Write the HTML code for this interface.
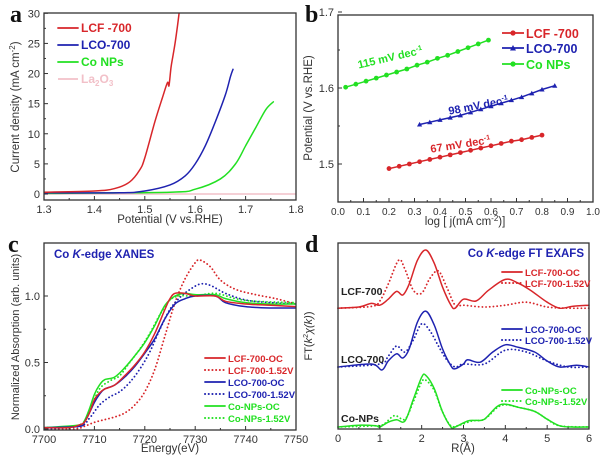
<!DOCTYPE html>
<html><head><meta charset="utf-8"><style>
body{margin:0;background:#fff;}
svg{display:block;font-family:"Liberation Sans",Arial,sans-serif;}
</style></head><body>
<svg id="fig" width="600" height="465" viewBox="0 0 600 465"></svg>
<script>
// ---------- Panel a data ----------
const aLCFx=[1.30,1.40,1.44,1.47,1.49,1.50,1.52,1.535,1.545,1.548,1.552,1.556,1.56,1.565,1.568];
const aLCFy=[0.3,0.5,0.9,2,4,6,12,16,18.5,18,21,23,25,28,30];
const aLCOx=[1.30,1.45,1.50,1.55,1.58,1.60,1.62,1.64,1.66,1.67,1.675];
const aLCOy=[0.2,0.2,0.5,1.5,3,5,8,12,16.5,19.5,20.7];
const aCox=[1.30,1.55,1.60,1.65,1.68,1.70,1.72,1.74,1.755];
const aCoy=[0.1,0.3,0.8,2.5,5,8,11,14,15.3];
const aLax=[1.30,1.80];
const aLay=[0,0];
const aXTicks=[1.3,1.4,1.5,1.6,1.7,1.8];
const aYTicks=[0,5,10,15,20,25,30];
// ---------- Panel b data ----------
const bLCFx=[0.20,0.24,0.28,0.32,0.36,0.40,0.44,0.48,0.52,0.56,0.60,0.64,0.68,0.72,0.76,0.80];
const bLCFy=[1.494,1.497,1.500,1.503,1.506,1.509,1.512,1.515,1.518,1.521,1.524,1.527,1.530,1.532,1.535,1.538];
const bLCOx=[0.32,0.36,0.40,0.44,0.48,0.52,0.56,0.60,0.64,0.68,0.72,0.76,0.80,0.85];
const bLCOy=[1.552,1.555,1.558,1.561,1.564,1.568,1.572,1.576,1.580,1.584,1.588,1.593,1.598,1.603];
const bCox=[0.03,0.07,0.11,0.15,0.19,0.23,0.27,0.31,0.35,0.39,0.43,0.47,0.51,0.55,0.59];
const bCoy=[1.601,1.605,1.609,1.613,1.617,1.621,1.625,1.630,1.634,1.639,1.643,1.648,1.653,1.658,1.663];
const bXTicks=[0.0,0.1,0.2,0.3,0.4,0.5,0.6,0.7,0.8,0.9,1.0];
const bYTicks=[1.5,1.6,1.7];
// ---------- Panel c data ----------
const cLCFOCx=[7700,7705,7707,7708,7709,7710,7711,7712,7714,7716,7718,7720,7722,7724,7725,7726,7728,7730,7734,7736,7740,7745,7750];
const cLCFOCy=[0.01,0.01,0.03,0.05,0.12,0.22,0.27,0.30,0.33,0.40,0.48,0.58,0.72,0.90,0.98,1.02,1.02,1.00,1.00,0.96,0.94,0.93,0.92];
const cLCF152x=[7700,7706,7708,7710,7712,7714,7716,7718,7720,7722,7724,7726,7728,7730,7731,7733,7735,7738,7742,7746,7750];
const cLCF152y=[0,0,0.02,0.05,0.07,0.09,0.12,0.18,0.28,0.45,0.70,0.95,1.13,1.25,1.27,1.22,1.12,1.05,1.01,0.98,0.94];
const cLCOOCx=[7700,7707,7708,7709,7710,7711,7712,7714,7716,7718,7720,7722,7724,7726,7728,7730,7734,7736,7740,7745,7750];
const cLCOOCy=[0.01,0.02,0.05,0.12,0.20,0.26,0.30,0.33,0.39,0.47,0.57,0.68,0.83,0.94,0.98,1.0,1.0,0.95,0.92,0.91,0.91];
const cLCO152x=[7700,7707,7709,7711,7713,7715,7717,7719,7721,7723,7725,7727,7729,7731,7733,7736,7740,7745,7750];
const cLCO152y=[0,0.02,0.08,0.18,0.24,0.28,0.35,0.45,0.58,0.75,0.90,0.99,1.05,1.09,1.08,1.02,0.97,0.95,0.94];
const cCoOCx=[7700,7707,7708,7709,7710,7711,7712,7714,7716,7718,7720,7722,7724,7726,7728,7730,7734,7736,7740,7745,7750];
const cCoOCy=[0.01,0.03,0.06,0.15,0.26,0.33,0.37,0.39,0.46,0.55,0.65,0.78,0.93,1.0,1.02,1.01,1.01,0.98,0.95,0.94,0.94];
const cCo152x=[7700,7707,7709,7711,7713,7715,7717,7719,7721,7723,7725,7727,7730,7734,7738,7742,7750];
const cCo152y=[0.01,0.03,0.14,0.30,0.36,0.40,0.50,0.60,0.72,0.86,0.97,1.0,1.0,1.02,0.98,0.96,0.95];
const cXTicks=[7700,7710,7720,7730,7740,7750];
const cYTicks=[0.0,0.5,1.0];
// ---------- Panel d data (relative to each sample baseline) ----------
const dLCFOCx=[0,0.5,0.8,1.0,1.2,1.4,1.55,1.7,1.9,2.1,2.3,2.5,2.7,2.8,3.0,3.3,3.6,4.0,4.3,4.6,5.0,5.3,5.6,6.0];
const dLCFOCy=[0,0.02,0.08,0.05,0.15,0.28,0.22,0.4,0.8,0.97,0.75,0.35,0.05,0.0,0.15,0.12,0.3,0.48,0.42,0.3,0.1,0.0,0.03,0.05];
const dLCF152x=[0,0.8,1.0,1.2,1.45,1.6,1.8,2.0,2.2,2.4,2.6,2.8,3.0,3.5,4.0,4.5,5.0,5.5,6.0];
const dLCF152y=[0,0.03,0.12,0.4,0.8,0.65,0.3,0.25,0.5,0.62,0.35,0.05,0.05,0.02,0.05,0.1,0.02,0.0,0.0];
const dLCOOCx=[0,0.8,1.05,1.2,1.4,1.55,1.7,1.9,2.1,2.3,2.5,2.7,2.8,3.0,3.1,3.4,3.7,4.0,4.3,4.7,5.0,5.3,5.7,6.0];
const dLCOOCy=[0,0.05,-0.05,0.1,0.22,0.15,0.3,0.75,0.93,0.7,0.3,0.02,-0.03,0.05,0.12,0.08,0.25,0.37,0.33,0.25,0.1,0.0,0.03,0.0];
const dLCO152x=[0,1.0,1.2,1.4,1.6,1.8,2.0,2.2,2.4,2.6,2.8,3.0,3.5,4.0,4.5,5.0,5.5,6.0];
const dLCO152y=[0,0.05,0.18,0.35,0.25,0.45,0.72,0.6,0.35,0.12,0.0,0.05,0.05,0.28,0.25,0.1,0.0,0.0];
const dCoOCx=[0,0.5,0.9,1.0,1.2,1.4,1.6,1.8,2.0,2.1,2.3,2.5,2.7,2.8,3.1,3.3,3.5,3.8,4.0,4.3,4.7,5.0,5.3,5.6,6.0];
const dCoOCy=[0,0.03,0.02,0.0,0.08,0.12,0.1,0.46,0.83,0.86,0.64,0.25,0.0,0.0,0.1,0.11,0.13,0.34,0.38,0.33,0.26,0.13,0.02,0.0,0.0];
const dCo152x=[0,0.9,1.1,1.35,1.6,1.8,2.0,2.1,2.3,2.5,2.7,2.9,3.2,3.5,3.8,4.0,4.3,4.7,5.0,5.3,6.0];
const dCo152y=[0,0.02,0.05,0.19,0.13,0.42,0.75,0.78,0.61,0.25,0.02,0.03,0.1,0.13,0.32,0.37,0.33,0.26,0.13,0.02,0.0];
const dOffsets=[1.98,1.0,0.0];
const dXTicks=[0,1,2,3,4,5,6];

const NS="http://www.w3.org/2000/svg";
const svg=document.getElementById('fig');
const RED="#d8262a",BLUE="#1e22b0",GREEN="#22e022",PINK="#f2c0c8";
const DOT='0.1,3.6';
function el(tag,attrs,parent,text){const e=document.createElementNS(NS,tag);for(const k in attrs)e.setAttribute(k,attrs[k]);if(text!==undefined)e.textContent=text;(parent||svg).appendChild(e);return e;}
function lin(d0,d1,r0,r1){return v=>r0+(v-d0)*(r1-r0)/(d1-d0);}
function smoothPath(xs,ys,sx,sy){
  const p=xs.map((x,i)=>[sx(x),sy(ys[i])]);
  let d="M"+p[0][0].toFixed(2)+","+p[0][1].toFixed(2);
  for(let i=0;i<p.length-1;i++){
    const p0=p[i-1]||p[i],p1=p[i],p2=p[i+1],p3=p[i+2]||p2;
    const c1=[p1[0]+(p2[0]-p0[0])/6,p1[1]+(p2[1]-p0[1])/6];
    const c2=[p2[0]-(p3[0]-p1[0])/6,p2[1]-(p3[1]-p1[1])/6];
    d+="C"+c1[0].toFixed(2)+","+c1[1].toFixed(2)+" "+c2[0].toFixed(2)+","+c2[1].toFixed(2)+" "+p2[0].toFixed(2)+","+p2[1].toFixed(2);
  }
  return d;
}
function frame(g,x0,y0,x1,y1){el('rect',{x:x0,y:y0,width:x1-x0,height:y1-y0,fill:'none',stroke:'#333','stroke-width':1.3},g);}
function xTicks(g,ticks,sx,yb,fmt,minor,fs){
  ticks.forEach((t,i)=>{const x=sx(t);el('line',{x1:x,y1:yb,x2:x,y2:yb-4,stroke:'#333'},g);
    const lab=el('text',{x:x,y:yb+13,'text-anchor':'middle','font-size':fs||11,fill:'#333'},g,fmt(t));
    
    if(minor&&i<ticks.length-1){const xm=(x+sx(ticks[i+1]))/2;el('line',{x1:xm,y1:yb,x2:xm,y2:yb-2,stroke:'#333'},g);}
  });
}
function yTicks(g,ticks,sy,xl,fmt,minor){
  ticks.forEach((t,i)=>{const y=sy(t);el('line',{x1:xl,y1:y,x2:xl+4,y2:y,stroke:'#333'},g);
    const lab=el('text',{x:xl-4,y:y+4,'text-anchor':'end','font-size':11,fill:'#333'},g,fmt(t));
    
    if(minor&&i<ticks.length-1){const ym=(y+sy(ticks[i+1]))/2;el('line',{x1:xl,y1:ym,x2:xl+2,y2:ym,stroke:'#333'},g);}
  });
}
function panelLetter(x,y,t){el('text',{x:x,y:y,'font-family':'"Liberation Serif",serif','font-size':24,'font-weight':'bold',fill:'#111',},svg,t);}
function series(g,xs,ys,sx,sy,color,dashed,name,w){
  const p=el('path',{d:smoothPath(xs,ys,sx,sy),fill:'none',stroke:color,'stroke-width':dashed?1.8:(w||1.5),'stroke-dasharray':dashed?DOT:'none','stroke-linecap':'round'},g);
  
}
function legend(g,x,y,color,dashed,label,fs){
  el('line',{x1:x,y1:y,x2:x+20,y2:y,stroke:color,'stroke-width':dashed?2:1.8,'stroke-dasharray':dashed?DOT:'none','stroke-linecap':'round'},g);
  const t=el('text',{x:x+23,y:y+4,'font-size':fs||11,'font-weight':'bold',fill:color},g,label);
  
}

// ===== Panel a =====
{
const g=el('g',{});
const sx=lin(1.3,1.8,44,296), sy=lin(0,30,194,13.3);
el('clipPath',{id:'ca'},g).appendChild(el('rect',{x:44,y:13,width:252,height:187},svg));
const cg=el('g',{'clip-path':'url(#ca)'},g);
series(cg,aLax,aLay,sx,sy,PINK,false,'la2o3-curve');
series(cg,aCox,aCoy,sx,sy,GREEN,false,'co-nps-curve');
series(cg,aLCOx,aLCOy,sx,sy,BLUE,false,'lco-700-curve');
series(cg,aLCFx,aLCFy,sx,sy,RED,false,'lcf-700-curve');
frame(g,44,13,296,200);
xTicks(g,aXTicks,sx,200,t=>t.toFixed(1),true);
yTicks(g,aYTicks,sy,44,t=>String(t),true);
el('text',{x:170,y:223,'text-anchor':'middle','font-size':11.5,fill:'#333',},g,'Potential (V vs.RHE)');
const yt=el('text',{transform:'translate(19,107) rotate(-90)','text-anchor':'middle','font-size':11.5,fill:'#333',},g);
yt.innerHTML='Current density (mA cm<tspan dy="-4" font-size="8">-2</tspan><tspan dy="4">)</tspan>';
legend(g,58,28,RED,false,'LCF -700',12);
legend(g,58,45,BLUE,false,'LCO-700',12);
legend(g,58,62,GREEN,false,'Co NPs',12);
el('line',{x1:58,y1:79,x2:78,y2:79,stroke:PINK,'stroke-width':1.8},g);
const lt=el('text',{x:81,y:83,'font-size':12,'font-weight':'bold',fill:PINK,},g);
lt.innerHTML='La<tspan dy="3" font-size="8">2</tspan><tspan dy="-3">O</tspan><tspan dy="3" font-size="8">3</tspan>';
panelLetter(10,22,'a');
}
// ===== Panel b =====
{
const g=el('g',{});
const sx=lin(0,1,338,593), sy=lin(1.5,1.6,164,88);
frame(g,338,15,593,202);
xTicks(g,bXTicks,sx,202,t=>t.toFixed(1),true,10);
yTicks(g,bYTicks,sy,338,t=>t.toFixed(1),true);
el('text',{x:465,y:225,'text-anchor':'middle','font-size':11.5,fill:'#333',},g).innerHTML='log [ j(mA cm<tspan dy="-4" font-size="8">-2</tspan><tspan dy="4">)]</tspan>';
el('text',{transform:'translate(312,108) rotate(-90)','text-anchor':'middle','font-size':11.5,fill:'#333',},g,'Potential (V vs.RHE)');
function ms(xs,ys,color,shape,name){
  const pts=xs.map((x,i)=>sx(x).toFixed(1)+','+sy(ys[i]).toFixed(1)).join(' ');
  const pl=el('polyline',{points:pts,fill:'none',stroke:color,'stroke-width':1.5},g);
  
  xs.forEach((x,i)=>{const X=sx(x),Y=sy(ys[i]);let m;
    if(shape==='tri')m=el('polygon',{points:`${X-2.6},${Y+2} ${X+2.6},${Y+2} ${X},${Y-2.6}`,fill:color},g);
    else m=el('circle',{cx:X,cy:Y,r:2.4,fill:color},g);
    });
}
ms(bCox,bCoy,GREEN,'circle','co-nps');
ms(bLCOx,bLCOy,BLUE,'tri','lco-700');
ms(bLCFx,bLCFy,RED,'circle','lcf-700');
function ann(x,y,rot,color,txt){const t=el('text',{transform:`translate(${x},${y}) rotate(${rot})`,'text-anchor':'middle','font-size':11,'font-weight':'bold',fill:color,},g);
  t.innerHTML=txt+' mV dec<tspan dy="-4" font-size="7">-1</tspan>';}
ann(391,61,-13,GREEN,'115');
ann(479,109,-11,BLUE,'98');
ann(461,148,-9,RED,'67');
[[33,RED,'LCF -700','circle'],[48,BLUE,'LCO-700','tri'],[64,GREEN,'Co NPs','circle']].forEach(([y,c,l,s])=>{
  el('line',{x1:502,y1:y,x2:524,y2:y,stroke:c,'stroke-width':1.8},g);
  if(s==='tri')el('polygon',{points:`${510},${y+2.5} ${516},${y+2.5} ${513},${y-3}`,fill:c},g);else el('circle',{cx:513,cy:y,r:2.6,fill:c},g);
  el('text',{x:526,y:y+5,'font-size':12.5,'font-weight':'bold',fill:c,},g,l);
});
panelLetter(305,22,'b');
}
// ===== Panel c =====
{
const g=el('g',{});
const sx=lin(7700,7750,44,296), sy=lin(0,1,429,296);
el('clipPath',{id:'cc'},g).appendChild(el('rect',{x:44,y:243,width:252,height:187},svg));
const cg=el('g',{'clip-path':'url(#cc)'},g);
series(cg,cLCF152x,cLCF152y,sx,sy,RED,true,'lcf-700-1.52v-curve');
series(cg,cLCO152x,cLCO152y,sx,sy,BLUE,true,'lco-700-1.52v-curve');
series(cg,cCo152x,cCo152y,sx,sy,GREEN,true,'co-nps-1.52v-curve');
series(cg,cCoOCx,cCoOCy,sx,sy,GREEN,false,'co-nps-oc-curve');
series(cg,cLCOOCx,cLCOOCy,sx,sy,BLUE,false,'lco-700-oc-curve');
series(cg,cLCFOCx,cLCFOCy,sx,sy,RED,false,'lcf-700-oc-curve');
frame(g,44,243,296,430);
xTicks(g,cXTicks,sx,430,t=>String(t),true);
yTicks(g,cYTicks,sy,44,t=>t.toFixed(1),true);
el('text',{x:170,y:452,'text-anchor':'middle','font-size':11.5,fill:'#333',},g,'Energy(eV)');
el('text',{transform:'translate(19,337) rotate(-90)','text-anchor':'middle','font-size':11,fill:'#333',},g,'Normalized Absorption (arb. units)');
el('text',{x:54,y:258,'font-size':11.5,'font-weight':'bold',fill:BLUE,},g).innerHTML='Co <tspan font-style="italic">K</tspan>-edge XANES';
[[358,RED,false,'LCF-700-OC'],[370,RED,true,'LCF-700-1.52V'],[382,BLUE,false,'LCO-700-OC'],[394,BLUE,true,'LCO-700-1.52V'],[406,GREEN,false,'Co-NPs-OC'],[418,GREEN,true,'Co-NPs-1.52V']].forEach(([y,c,d,l])=>legend(g,205,y,c,d,l,9.5));
panelLetter(8,252,'c');
}
// ===== Panel d =====
{
const g=el('g',{});
const sx=lin(0,6,338,589), sy=lin(0,1,427,367);
const off=(ys,o)=>ys.map(v=>v+o);
series(g,dLCF152x,off(dLCF152y,dOffsets[0]),sx,sy,RED,true,'lcf-700-1.52v-curve');
series(g,dLCFOCx,off(dLCFOCy,dOffsets[0]),sx,sy,RED,false,'lcf-700-oc-curve');
series(g,dLCO152x,off(dLCO152y,dOffsets[1]),sx,sy,BLUE,true,'lco-700-1.52v-curve');
series(g,dLCOOCx,off(dLCOOCy,dOffsets[1]),sx,sy,BLUE,false,'lco-700-oc-curve');
series(g,dCo152x,off(dCo152y,dOffsets[2]),sx,sy,GREEN,true,'co-nps-1.52v-curve');
series(g,dCoOCx,off(dCoOCy,dOffsets[2]),sx,sy,GREEN,false,'co-nps-oc-curve');
frame(g,338,243,589,429);
xTicks(g,dXTicks,sx,429,t=>String(t),true);
el('text',{x:463,y:452,'text-anchor':'middle','font-size':11.5,fill:'#333',},g,'R(Å)');
el('text',{transform:'translate(312,336) rotate(-90)','text-anchor':'middle','font-size':11,fill:'#333',},g).innerHTML='FT(<tspan font-style="italic">k</tspan><tspan dy="-4" font-size="7">2</tspan><tspan dy="4" font-style="italic">χ(k)</tspan>)';
el('text',{x:584,y:257,'text-anchor':'end','font-size':11.5,'font-weight':'bold',fill:BLUE,},g).innerHTML='Co <tspan font-style="italic">K</tspan>-edge  FT EXAFS';
[[341,295,'LCF-700'],[341,363,'LCO-700'],[341,422,'Co-NPs']].forEach(([x,y,t])=>el('text',{x:x,y:y,'font-size':10.5,'font-weight':'bold',fill:'#222',},g,t));
[[272,RED,false,'LCF-700-OC'],[283,RED,true,'LCF-700-1.52V'],[329,BLUE,false,'LCO-700-OC'],[340,BLUE,true,'LCO-700-1.52V'],[390,GREEN,false,'Co-NPs-OC'],[401,GREEN,true,'Co-NPs-1.52V']].forEach(([y,c,d,l])=>legend(g,502,y,c,d,l,9.5));
panelLetter(305,252,'d');
}
</script>
</body></html>
